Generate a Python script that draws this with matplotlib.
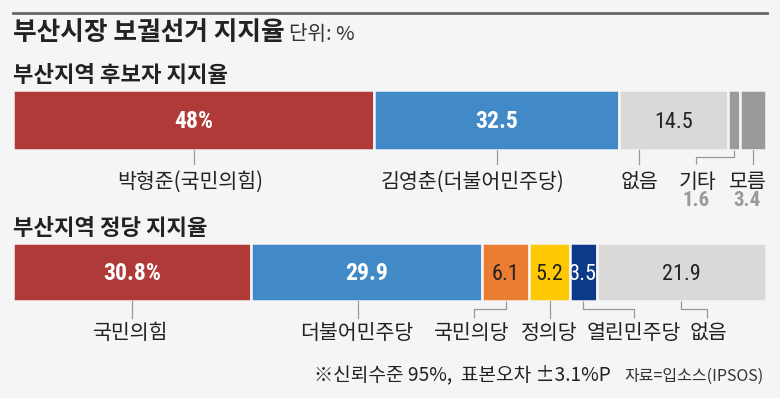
import numpy as np
import matplotlib
matplotlib.use("Agg")
import matplotlib.pyplot as plt
from matplotlib import font_manager

# data
cand_names = ["박형준(국민의힘)", "김영춘(더불어민주당)", "없음", "기타", "모름"]
cand_values = [48, 32.5, 14.5, 1.6, 3.4]
cand_texts = ["48%", "32.5", "14.5", "", ""]
cand_small = ["", "", "", "1.6", "3.4"]

party_names = ["국민의힘", "더불어민주당", "국민의당", "정의당", "열린민주당", "없음"]
party_values = [30.8, 29.9, 6.1, 5.2, 3.5, 21.9]
party_texts = ["30.8%", "29.9", "6.1", "5.2", "3.5", "21.9"]

# styles
cand_colors = ["#b03a38", "#4189c7", "#d9d9d9", "#9a9a9a", "#9a9a9a"]
cand_txt_colors = ["white", "white", "#222222", "#222222", "#222222"]
cand_txt_weight = ["bold", "bold", "normal", "normal", "normal"]
party_colors = ["#b03a38", "#4189c7", "#ea7d31", "#fec802", "#0c3a8a", "#d9d9d9"]
party_txt_colors = ["white", "white", "#222222", "#222222", "white", "#222222"]
party_txt_weight = ["bold", "bold", "normal", "normal", "normal", "normal"]

# leader layout: (line offset px, label offset px, elbow?)
cand_leader = [(0, -4, False), (0, -24, False), (-35, -34, False), (-38, -37, True), (0, -5, False)]
party_leader = [(0, -1, False), (-9, -10, False), (-32, -34, True), (0, 0, False), (51, 51, True), (26, 27, True)]

KR = "Noto Sans CJK KR"
names = {f.name for f in font_manager.fontManager.ttflist}
NUM = "Roboto Condensed" if "Roboto Condensed" in names else KR

W, H = 780, 398
BG = "#f5f5f5"
fig = plt.figure(figsize=(W / 100, H / 100), dpi=100, facecolor=BG)


def fx(x):
    return x / W


def fy(y):
    return 1 - y / H


# top rule and titles
fig.add_artist(plt.Line2D([fx(13), fx(767)], [fy(13), fy(13)], color="#666666", lw=2))
fig.text(fx(13), fy(33), "부산시장 보궐선거 지지율", family=KR, weight="bold",
         fontsize=18.5, color="#222222", va="center")
fig.text(fx(289), fy(35), "단위: %", family=KR, fontsize=14.5, color="#333333", va="center")
fig.text(fx(13), fy(76), "부산지역 후보자 지지율", family=KR, weight="bold",
         fontsize=16, color="#222222", va="center")
fig.text(fx(13), fy(228), "부산지역 정당 지지율", family=KR, weight="bold",
         fontsize=16, color="#222222", va="center")

BAR_L, BAR_W = 13, 753


def draw_bar(top, height_px, bar_h, values, colors, texts, tcolors, tweights,
             labels, leader, label_y, elbow_y, line_end, small=None):
    ax = fig.add_axes([fx(BAR_L), fy(top + height_px), BAR_W / W, height_px / H])
    ax.set_facecolor("none")
    total = sum(values)
    ax.set_xlim(0, total)
    ax.set_ylim(height_px, 0)
    ax.axis("off")
    per_px = total / BAR_W
    lefts = np.concatenate([[0], np.cumsum(values)[:-1]])
    ax.barh(bar_h / 2, values, left=lefts, height=bar_h, color=colors,
            edgecolor=BG, linewidth=1.8)
    for i, v in enumerate(values):
        c = lefts[i] + v / 2
        if texts[i]:
            fs = 17 if tweights[i] == "bold" else 16
            ax.text(c, bar_h / 2 + 2, texts[i], ha="center", va="center",
                    family=[NUM, KR], fontsize=fs, color=tcolors[i], weight=tweights[i])
        d_line, d_lab, elbow = leader[i]
        xe = c + d_line * per_px
        if elbow:
            ax.plot([c, c, xe, xe], [bar_h, elbow_y, elbow_y, line_end],
                    color="#999999", lw=0.9, solid_capstyle="butt")
        else:
            ax.plot([xe, xe], [bar_h, line_end], color="#999999", lw=0.9)
        xl = c + d_lab * per_px
        ax.text(xl, label_y, labels[i], ha="center", va="center", family=KR,
                fontsize=14.8, color="#222222")
        if small and small[i]:
            ax.text(xl - 1 * per_px, label_y + 19, small[i], ha="center", va="center",
                    family=[NUM, KR], fontsize=15, color="#999999", weight="bold")
    return ax


draw_bar(90, 125, 60, cand_values, cand_colors, cand_texts, cand_txt_colors,
         cand_txt_weight, cand_names, cand_leader, label_y=92, elbow_y=67,
         line_end=74, small=cand_small)
draw_bar(243, 100, 58, party_values, party_colors, party_texts, party_txt_colors,
         party_txt_weight, party_names, party_leader, label_y=90, elbow_y=66,
         line_end=75)

# footnote
fig.text(fx(611), fy(375), "※신뢰수준 95%,  표본오차 ±3.1%P", family=KR,
         fontsize=13.8, color="#222222", ha="right", va="center")
fig.text(fx(764), fy(376), "자료=입소스(IPSOS)", family=KR,
         fontsize=11.5, color="#333333", ha="right", va="center")

fig.savefig("out.png", dpi=100, facecolor=BG)
